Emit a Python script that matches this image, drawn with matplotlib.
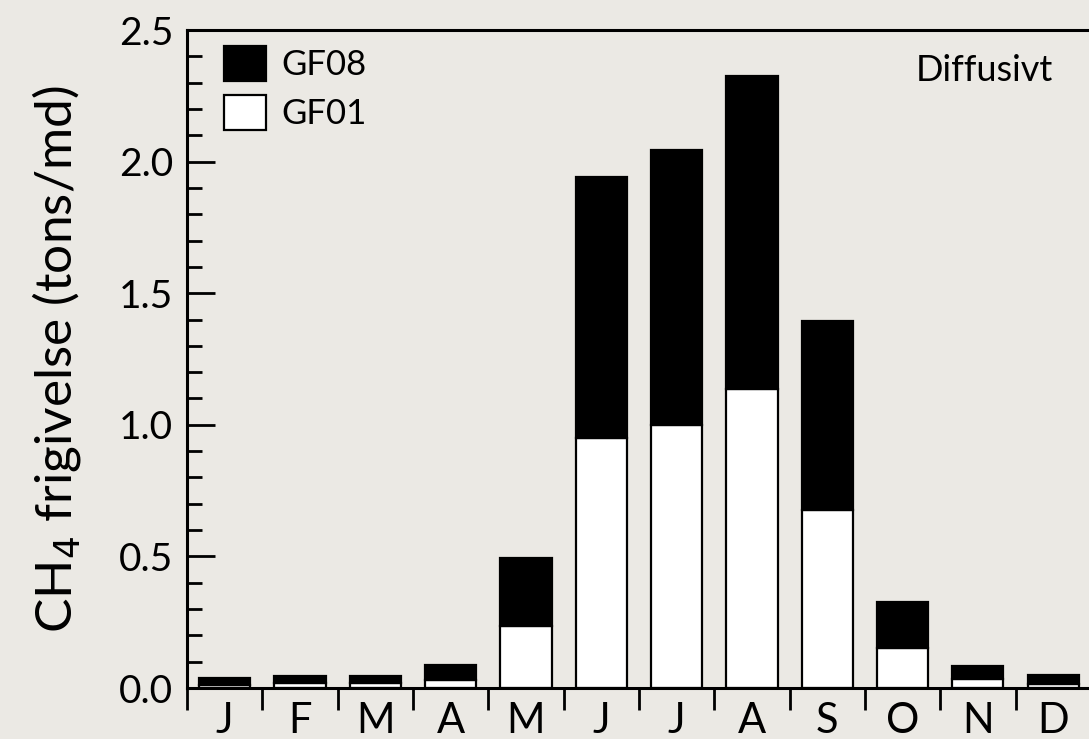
import matplotlib.pyplot as plt
import numpy as np

months = ['J', 'F', 'M', 'A', 'M', 'J', 'J', 'A', 'S', 'O', 'N', 'D']
# bottom part (GF01) and the part stacked on top (GF08), tons/md
gf01 = [0.010, 0.018, 0.018, 0.030, 0.236, 0.950, 1.000, 1.136, 0.676, 0.152, 0.034, 0.015]
gf08 = [0.028, 0.027, 0.027, 0.057, 0.258, 0.990, 1.044, 1.189, 0.718, 0.175, 0.050, 0.035]

bg = '#ebe9e4'
plt.rcParams['font.family'] = ['Lato', 'DejaVu Sans']

fig = plt.figure(figsize=(10.89, 7.39), dpi=100, facecolor=bg)
ax = fig.add_axes([0.1717, 0.069, 0.83, 0.8904])
ax.set_facecolor(bg)

x = np.arange(len(months)) + 0.5
width = 0.68
ax.bar(x, gf01, width, color='white', edgecolor='black', linewidth=1.6, label='GF01')
ax.bar(x, gf08, width, bottom=gf01, color='black', edgecolor='black', linewidth=1.6, label='GF08')

ax.set_xlim(0, 12)
ax.set_ylim(0, 2.5)

ax.set_yticks(np.arange(0, 2.51, 0.5))
ax.set_yticks(np.arange(0, 2.51, 0.1), minor=True)
ax.set_yticklabels(['0.0', '0.5', '1.0', '1.5', '2.0', '2.5'])
ax.tick_params(axis='y', which='major', direction='in', length=20, width=2, labelsize=28, pad=10)
ax.tick_params(axis='y', which='minor', direction='in', length=11, width=2)

# month boundaries get tick marks, month names sit in between
ax.set_xticks(np.arange(0, 13))
ax.set_xticklabels([''] * 13)
ax.set_xticks(x, minor=True)
ax.set_xticklabels(months, minor=True)
ax.tick_params(axis='x', which='major', direction='out', length=16, width=2)
ax.tick_params(axis='x', which='minor', length=0, labelsize=30, pad=10)

for s in ax.spines.values():
    s.set_linewidth(2.2)

ax.set_ylabel('CH$_4$ frigivelse (tons/md)', fontsize=37)
ax.yaxis.set_label_coords(-0.115, 0.5)

handles, labels = ax.get_legend_handles_labels()
ax.legend(handles[::-1], labels[::-1], loc='upper left', frameon=False, fontsize=25,
          handlelength=1.2, handleheight=1.15, handletextpad=0.45, labelspacing=0.4,
          bbox_to_anchor=(0.041, 0.975), borderaxespad=0, borderpad=0)

ax.text(0.958, 0.938, 'Diffusivt', transform=ax.transAxes, ha='right', va='center', fontsize=26)

fig.savefig('out.png', dpi=100, facecolor=bg)
